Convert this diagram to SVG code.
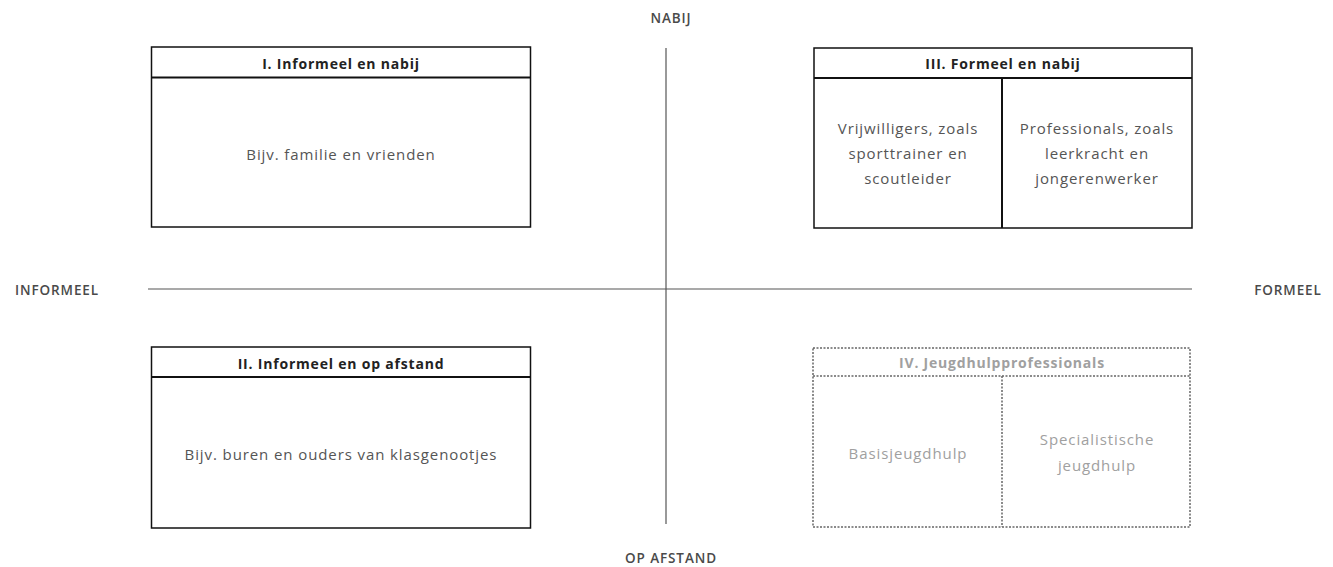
<svg xmlns="http://www.w3.org/2000/svg" width="1333" height="567" viewBox="0 0 1333 567">
<style>
.box{fill:#fff;stroke:#111;stroke-width:1.5}
.sep{stroke:#111;stroke-width:2}
.dbox{fill:#fff;stroke:#666;stroke-width:1.5;stroke-dasharray:2 1.5}
.dsep{stroke:#666;stroke-width:1.5;stroke-dasharray:2 1.5}
.axis{stroke:#555;stroke-width:1.2}
.hd{font-family:"Open Sans",sans-serif;font-weight:bold;font-size:14px;letter-spacing:0.8px;fill:#222;text-anchor:middle}
.hdg{font-family:"Open Sans",sans-serif;font-weight:bold;font-size:14px;letter-spacing:0.8px;fill:#a0a0a0;text-anchor:middle}
.tx{font-family:"Open Sans",sans-serif;font-size:15px;letter-spacing:0.9px;fill:#555;text-anchor:middle}
.txg{font-family:"Open Sans",sans-serif;font-size:15px;letter-spacing:0.9px;fill:#a0a0a0;text-anchor:middle}
.ax{font-family:"Open Sans",sans-serif;font-weight:600;font-size:13.5px;letter-spacing:0.9px;fill:#4a4a4a;text-anchor:middle}
</style>
<g id="connectors">
<line class="axis" x1="148" y1="289" x2="1192" y2="289"/>
<line class="axis" x1="666" y1="48" x2="666" y2="524"/>
</g>
<g id="axis-labels">
<text class="ax" x="57" y="295">INFORMEEL</text>
<text class="ax" x="1288" y="295">FORMEEL</text>
<text class="ax" x="671" y="23">NABIJ</text>
<text class="ax" x="671" y="563">OP AFSTAND</text>
</g>
<g id="box1">
<rect class="box" x="151.5" y="47" width="379" height="180"/>
<line class="sep" x1="151.5" y1="77.5" x2="530.5" y2="77.5"/>
<text class="hd" x="341" y="69">I. Informeel en nabij</text>
<text class="tx" x="341" y="160">Bijv. familie en vrienden</text>
</g>
<g id="box3">
<rect class="box" x="814" y="48" width="378" height="180"/>
<line class="sep" x1="814" y1="78" x2="1192" y2="78"/>
<line class="sep" x1="1002" y1="78" x2="1002" y2="228"/>
<text class="hd" x="1003" y="69">III. Formeel en nabij</text>
<text class="tx" x="908" y="134">Vrijwilligers, zoals</text>
<text class="tx" x="908" y="159">sporttrainer en</text>
<text class="tx" x="908" y="184">scoutleider</text>
<text class="tx" x="1097" y="134">Professionals, zoals</text>
<text class="tx" x="1097" y="159">leerkracht en</text>
<text class="tx" x="1097" y="184">jongerenwerker</text>
</g>
<g id="box2">
<rect class="box" x="151.5" y="347" width="379" height="181"/>
<line class="sep" x1="151.5" y1="377" x2="530.5" y2="377"/>
<text class="hd" x="341" y="369">II. Informeel en op afstand</text>
<text class="tx" x="341" y="460">Bijv. buren en ouders van klasgenootjes</text>
</g>
<g id="box4">
<rect class="dbox" x="813" y="348" width="377" height="179"/>
<line class="dsep" x1="813" y1="376" x2="1190" y2="376"/>
<line class="dsep" x1="1002" y1="376" x2="1002" y2="527"/>
<text class="hdg" x="1002" y="368">IV. Jeugdhulpprofessionals</text>
<text class="txg" x="908" y="459">Basisjeugdhulp</text>
<text class="txg" x="1097" y="445">Specialistische</text>
<text class="txg" x="1097" y="471">jeugdhulp</text>
</g>
</svg>
